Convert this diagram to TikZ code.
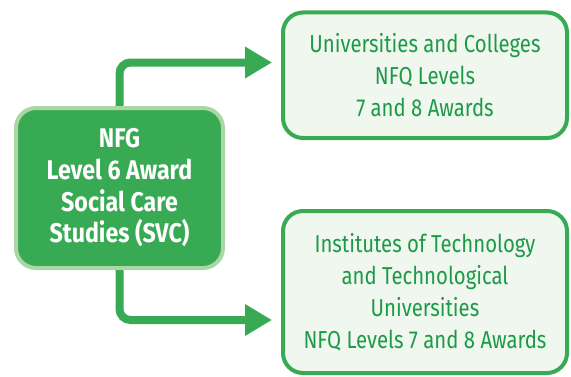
\documentclass[tikz,border=0pt]{standalone}
\usepackage{fontspec}
\setmainfont{Fira Sans}[FakeStretch=0.83]
\newfontfamily\awardfont{Fira Sans}[FakeStretch=0.86]
\usepackage{tikz}
\usetikzlibrary{positioning, arrows.meta, calc, backgrounds}
\definecolor{leafgreen}{HTML}{39AA54}
\definecolor{palegreen}{HTML}{AAD7A3}
\definecolor{mintbg}{HTML}{EFF7EE}
\definecolor{pathgreen}{HTML}{1D9A47}

\tikzset{
  awardbox/.style={draw=palegreen, fill=leafgreen, line width=4pt, rounded corners=20pt,
    minimum width=207pt, minimum height=160pt, align=center, text=white,
    font=\awardfont\fontsize{27}{31.7}\selectfont\bfseries},
  routebox/.style={draw=leafgreen, fill=mintbg, line width=4pt, rounded corners=20pt,
    minimum width=284pt, align=center, text=pathgreen,
    font=\fontsize{24.5}{32}\selectfont},
  flowline/.style={draw=leafgreen, line width=8pt, rounded corners=11pt,
    -{Triangle[width=30pt, length=27pt]}}
}

\begin{document}
\begin{tikzpicture}[x=1pt, y=1pt]
  \useasboundingbox (0,0) rectangle (571,376);

  \node[awardbox] (svc) at (119.5,188) {NFG\\Level 6 Award\\Social Care\\Studies (SVC)};
  \node[routebox, minimum height=125.5pt] (uni) at (425,300.75)
    {Universities and Colleges\\NFQ Levels\\7 and 8 Awards};
  \node[routebox, minimum height=162pt] (tech) at (425,84)
    {Institutes of Technology\\and Technological\\Universities\\NFQ Levels 7 and 8 Awards};

  % free ends of the two routes
  \coordinate (uniend) at (272,313.5);
  \coordinate (techend) at (272,56);

  \begin{scope}[on background layer]
    \draw[flowline] (svc.center) |- (uniend);
    \draw[flowline] (svc.center) |- (techend);
  \end{scope}
\end{tikzpicture}
\end{document}
